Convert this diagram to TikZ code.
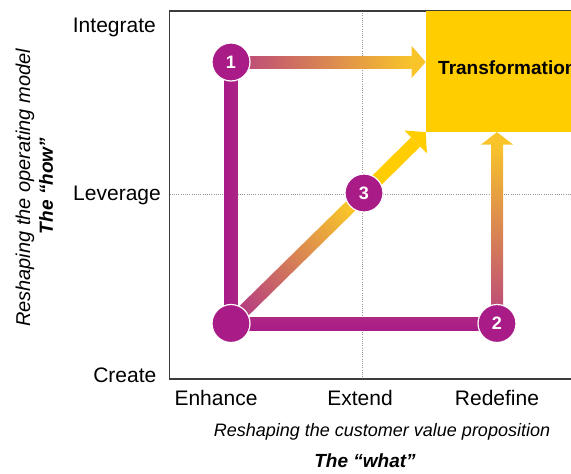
\documentclass[tikz,border=0pt]{standalone}
\usepackage{fontspec}
\setmainfont{Liberation Sans}
\usetikzlibrary{calc}
\definecolor{mag}{RGB}{169,28,135}
\definecolor{magl}{RGB}{184,66,126}
\definecolor{yel}{RGB}{255,205,0}
\definecolor{ayel}{RGB}{248,196,42}
\definecolor{framec}{RGB}{60,60,60}
\definecolor{gridc}{RGB}{150,150,150}
\begin{document}
\begin{tikzpicture}[x=1pt,y=-1pt,
  axislabel/.style={font=\fontsize{21}{24}\selectfont, inner sep=0pt},
  titlelabel/.style={font=\itshape\fontsize{20}{24}\selectfont, inner sep=0pt},
  xtitlelabel/.style={font=\itshape\fontsize{18}{22}\selectfont, inner sep=0pt},
  whatlabel/.style={font=\bfseries\itshape\fontsize{19}{23}\selectfont, inner sep=0pt},
  framestyle/.style={draw=framec, line width=1.5pt},
  gridline/.style={draw=gridc, line width=0.8pt, dash pattern=on 1pt off 1.2pt},
  circ/.style={circle, fill=mag, draw=white, line width=1.2pt, minimum size=38pt, inner sep=0pt, text=white, font=\bfseries\fontsize{18}{18}\selectfont},
  tbox/.style={fill=yel, anchor=north west, minimum width=200pt, minimum height=120.7pt, inner sep=0pt}
]
\useasboundingbox (0,0) rectangle (571,474);

% positions
\coordinate (p1) at (231,62);
\coordinate (p0) at (231,323.5);
\coordinate (p2) at (497,323.5);
\coordinate (p3) at (364,193);

% grid lines
\draw[gridline] (362.7,11) -- (362.7,379);
\draw[gridline] (169.5,194) -- (571,194);

% frame
\draw[framestyle] (571,11) -- (169.5,11) -- (169.5,379) -- (571,379);

% transformation box
\node[tbox] (box) at (425.7,11) {};
\node[font=\bfseries\fontsize{19}{22}\selectfont, anchor=base west, inner sep=0pt] (ttr) at (438,74) {Transformation};

% magenta bars
\shade[left color=mag, right color=mag!80!magl] ($(p0)+(-6.5,0)$) rectangle ($(p1)+(6.5,0)$);
\shade[top color=mag!70!magl, bottom color=mag] ($(p0)+(0,-6.5)$) rectangle ($(p2)+(0,6.5)$);

% arrow 1 (horizontal)
\shade[left color=magl, right color=ayel] ($(p1)+(0,-6)$) rectangle ($(box.west|-p1)+(-14,6)$);
\fill[ayel] (box.west|-p1) -- ++(-14,-16) -- ++(0,32) -- cycle;

% arrow 2 (vertical)
\shade[bottom color=magl, top color=ayel] ($(p2)+(-6,0)$) rectangle ($(box.south-|p2)+(6,12.5)$);
\fill[ayel] (box.south-|p2) -- ++(-16,12.5) -- ++(32,0) -- cycle;

% arrow 3 (diagonal)
\coordinate (tip) at (box.south west);
\coordinate (hb) at ($(tip)!14pt!(p0)$);
\shade[left color=magl, right color=ayel, shading angle=134.5]
  ($(p0)!6.5pt!90:(p3)$) -- ($(p3)!6.5pt!-90:(p0)$) -- ($(p3)!6.5pt!90:(p0)$) -- ($(p0)!6.5pt!-90:(p3)$) -- cycle;
\fill[yel]
  ($(p3)!6.5pt!90:(hb)$) -- ($(hb)!6.5pt!-90:(p3)$) -- ($(hb)!6.5pt!90:(p3)$) -- ($(p3)!6.5pt!-90:(hb)$) -- cycle;
\fill[yel] (tip) -- ($(hb)!16pt!90:(tip)$) -- ($(hb)!16pt!-90:(tip)$) -- cycle;

% circles
\node[circ] (c1) at (p1) {1};
\node[circ] (c0) at (p0) {};
\node[circ] (c2) at (p2) {2};
\node[circ] (c3) at (p3) {3};

% axis labels
\node[axislabel, anchor=base east] (lint) at (156,32.7) {Integrate};
\node[axislabel, anchor=base east] (llev) at (161,200) {Leverage};
\node[axislabel, anchor=base east] (lcre) at (156.5,382) {Create};
\node[axislabel, anchor=base] (lenh) at (216,405.5) {Enhance};
\node[axislabel, anchor=base] (lext) at (360,405.5) {Extend};
\node[axislabel, anchor=base] (lred) at (497,405.5) {Redefine};

% titles
\node[titlelabel, rotate=90] (ytitle) at (25,188) {Reshaping the operating model};
\node[whatlabel, rotate=90] (yhow) at (46,186) {The “how”};
\node[xtitlelabel, anchor=base] (xtitle) at (382,436) {Reshaping the customer value proposition};
\node[whatlabel, anchor=base] (xwhat) at (365,467) {The “what”};
\end{tikzpicture}
\end{document}
